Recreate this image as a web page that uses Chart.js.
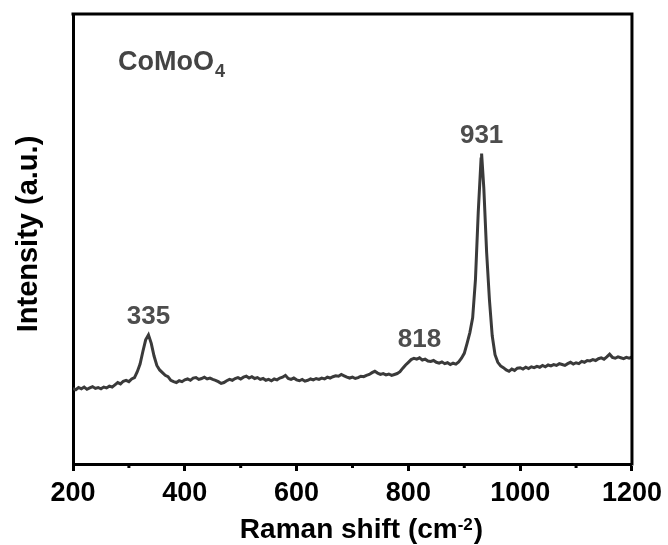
<!DOCTYPE html>
<html>
<head>
<meta charset="utf-8">
<script src="https://cdn.jsdelivr.net/npm/chart.js@4"></script>
<style>
  html, body { margin: 0; padding: 0; background: #fff; }
  #wrap { width: 668px; height: 545px; }
</style>
</head>
<body>
<div id="wrap"><canvas id="raman"></canvas></div>
<script>
// Raman shift (cm-1)
const shift = [
  200, 205, 210, 215, 220, 225, 230, 235, 240, 245,
  250, 255, 260, 265, 270, 275, 280, 285, 290, 295,
  300, 305, 310, 315, 320, 325, 330, 335, 340, 345,
  350, 355, 360, 365, 370, 375, 380, 385, 390, 395,
  400, 405, 410, 415, 420, 425, 430, 435, 440, 445,
  450, 455, 460, 465, 470, 475, 480, 485, 490, 495,
  500, 505, 510, 515, 520, 525, 530, 535, 540, 545,
  550, 555, 560, 565, 570, 575, 580, 585, 590, 595,
  600, 605, 610, 615, 620, 625, 630, 635, 640, 645,
  650, 655, 660, 665, 670, 675, 680, 685, 690, 695,
  700, 705, 710, 715, 720, 725, 730, 735, 740, 745,
  750, 755, 760, 765, 770, 775, 780, 785, 790, 795,
  800, 805, 810, 815, 820, 825, 830, 835, 840, 845,
  850, 855, 860, 865, 870, 875, 880, 885, 890, 895,
  900, 905, 910, 915, 920, 925, 930, 931, 935, 940, 945,
  950, 955, 960, 965, 970, 975, 980, 985, 990, 995,
  1000, 1005, 1010, 1015, 1020, 1025, 1030, 1035, 1040, 1045,
  1050, 1055, 1060, 1065, 1070, 1075, 1080, 1085, 1090, 1095,
  1100, 1105, 1110, 1115, 1120, 1125, 1130, 1135, 1140, 1145,
  1150, 1155, 1160, 1165, 1170, 1175, 1180, 1185, 1190, 1195,
  1200
];

// intensity (a.u.), same order as shift
const intensity = [
  168, 165, 170, 167, 171, 166, 169, 172, 168, 170,
  167, 171, 169, 173, 171, 176, 181, 178, 184, 186,
  183, 189, 192, 205, 222, 250, 276, 287, 268, 240,
  219, 209, 203, 197, 194, 186, 183, 181, 185, 183,
  187, 189, 186, 191, 192, 188, 190, 193, 189, 191,
  188, 186, 183, 179, 181, 185, 188, 186, 190, 192,
  189, 193, 195, 191, 194, 190, 192, 188, 190, 186,
  188, 185, 189, 187, 191, 193, 197, 190, 188, 191,
  187, 185, 188, 184, 186, 189, 187, 190, 188, 191,
  189, 193, 191, 194, 196, 195, 199, 196, 193, 191,
  193, 190, 192, 195, 194, 197, 199, 203, 206, 202,
  199, 201, 198, 200, 197, 199, 201, 205, 213, 220,
  226, 232, 235, 233, 236, 231, 233, 229, 228, 230,
  226, 224, 227, 223, 225, 221, 224, 222, 227, 235,
  246, 268, 292, 325, 410, 560, 678, 690, 612, 470, 365,
  285, 243, 226, 218, 214, 209, 206, 211, 208, 213,
  214, 211, 215, 212, 216, 214, 217, 215, 219, 216,
  220, 218, 221, 219, 223, 221, 219, 223, 226, 222,
  225, 223, 228, 226, 230, 229, 232, 230, 234, 236,
  233, 238, 244, 237, 235, 238, 236, 234, 237, 235,
  238
];

const xTicks = [200, 400, 600, 800, 1000, 1200];
const xMinorTicks = [300, 500, 700, 900, 1100];

const peakLabels = ['335', '818', '931'];
const peakShift = [335, 820, 931];

const FONT = '"Liberation Sans", Arial, sans-serif';

// frame, minor ticks, peak labels and axis titles
const decorPlugin = {
  id: 'decor',
  afterDraw(chart) {
    const ctx = chart.ctx;
    const a = chart.chartArea;
    const xs = chart.scales.x;
    const ys = chart.scales.y;
    ctx.save();

    // top and right border
    ctx.strokeStyle = '#000';
    ctx.lineWidth = 3;
    ctx.beginPath();
    ctx.moveTo(a.left - 1.5, a.top);
    ctx.lineTo(a.right, a.top);
    ctx.lineTo(a.right, a.bottom + 1.5);
    ctx.stroke();

    // minor ticks
    ctx.lineWidth = 3;
    xMinorTicks.forEach(v => {
      const px = xs.getPixelForValue(v);
      ctx.beginPath();
      ctx.moveTo(px, a.bottom);
      ctx.lineTo(px, a.bottom + 4);
      ctx.stroke();
    });

    // peak labels
    ctx.fillStyle = '#4d4d4d';
    ctx.font = 'bold 26px ' + FONT;
    ctx.textAlign = 'center';
    ctx.textBaseline = 'alphabetic';
    peakShift.forEach((s, i) => {
      let k = 0;
      shift.forEach((v, j) => { if (Math.abs(v - s) < Math.abs(shift[k] - s)) k = j; });
      const px = xs.getPixelForValue(s);
      const py = ys.getPixelForValue(intensity[k]) - 11;
      ctx.fillText(peakLabels[i], px, py);
    });

    // sample name
    ctx.textAlign = 'left';
    ctx.fillStyle = '#444';
    ctx.font = 'bold 27px ' + FONT;
    ctx.fillText('CoMoO', 118, 70);
    const w0 = ctx.measureText('CoMoO').width;
    ctx.font = 'bold 18px ' + FONT;
    ctx.fillText('4', 118 + w0 + 1, 77);

    // x title with superscript
    ctx.fillStyle = '#000';
    ctx.font = 'bold 28px ' + FONT;
    const t1 = 'Raman shift (cm';
    const w1 = ctx.measureText(t1).width;
    ctx.font = 'bold 17px ' + FONT;
    const w2 = ctx.measureText('-2').width;
    ctx.font = 'bold 28px ' + FONT;
    const w3 = ctx.measureText(')').width;
    let x0 = 361 - (w1 + w2 + w3) / 2;
    ctx.fillText(t1, x0, 538);
    ctx.font = 'bold 17px ' + FONT;
    ctx.fillText('-2', x0 + w1, 530);
    ctx.font = 'bold 28px ' + FONT;
    ctx.fillText(')', x0 + w1 + w2 + 1, 538);

    // y title
    ctx.translate(29, 234);
    ctx.rotate(-Math.PI / 2);
    ctx.textAlign = 'center';
    ctx.textBaseline = 'middle';
    ctx.font = 'bold 29px ' + FONT;
    ctx.fillText('Intensity (a.u.)', 0, 0);
    ctx.restore();
  }
};

document.addEventListener('DOMContentLoaded', function () {
  const points = shift.map((s, i) => ({ x: s, y: intensity[i] }));
  const ctx = document.getElementById('raman').getContext('2d');
  new Chart(ctx, {
    type: 'line',
    data: {
      datasets: [{
        data: points,
        borderColor: '#3a3a3a',
        borderWidth: 3,
        pointRadius: 0,
        tension: 0,
        fill: false
      }]
    },
    options: {
      responsive: true,
      maintainAspectRatio: false,
      animation: false,
      events: [],
      layout: {
        padding: { left: 73, right: 36, top: 14, bottom: 0 }
      },
      plugins: {
        legend: { display: false },
        tooltip: { enabled: false }
      },
      scales: {
        x: {
          type: 'linear',
          min: 200,
          max: 1200,
          afterBuildTicks: s => { s.ticks = xTicks.map(v => ({ value: v })); },
          afterFit: s => { s.height = 81; },
          ticks: {
            color: '#000',
            padding: 6,
            maxRotation: 0,
            callback: v => String(v),
            font: { family: FONT, size: 27, weight: 'bold' }
          },
          grid: {
            drawOnChartArea: false,
            drawTicks: true,
            tickLength: 7,
            tickWidth: 3,
            tickColor: '#000'
          },
          border: { display: true, color: '#000', width: 3 }
        },
        y: {
          min: 0,
          max: 1000,
          afterFit: s => { s.width = 0; },
          ticks: { display: false },
          grid: { display: false },
          border: { display: true, color: '#000', width: 3 }
        }
      }
    },
    plugins: [decorPlugin]
  });
});
</script>
</body>
</html>
